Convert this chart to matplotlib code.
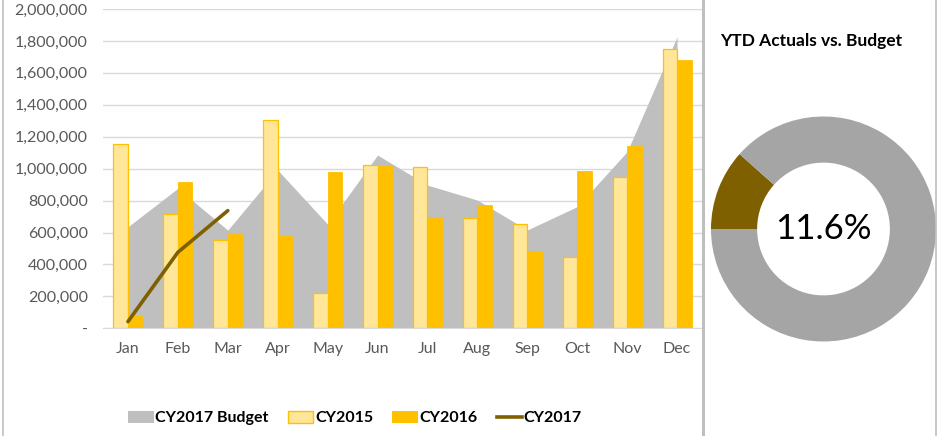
import matplotlib
matplotlib.use("Agg")
import matplotlib.pyplot as plt
import numpy as np
from matplotlib.lines import Line2D
from matplotlib.patches import Patch
from matplotlib.ticker import FuncFormatter

plt.rcParams['font.family'] = ['Lato', 'DejaVu Sans']

months = ['Jan', 'Feb', 'Mar', 'Apr', 'May', 'Jun',
          'Jul', 'Aug', 'Sep', 'Oct', 'Nov', 'Dec']
budget_2017 = [636000, 877000, 615000, 991000, 652000, 1085000,
               897000, 803000, 616000, 762000, 1106000, 1826000]
cy2015 = [1154000, 714000, 553000, 1304000, 219000, 1021000,
          1008000, 693000, 653000, 445000, 947000, 1751000]
cy2016 = [79000, 918000, 590000, 578000, 981000, 1018000,
          693000, 770000, 484000, 983000, 1143000, 1680000]
cy2017 = [42000, 476000, 737000]
ytd_pct = 11.6

colors = {
    'budget': '#BFBFBF',
    'cy2015': '#FFE699',
    'cy2016': '#FFC000',
    'cy2017': '#7F6000',
    'ring': '#A5A5A5',
    'grid': '#D9D9D9',
    'tick': '#595959',
}

fig = plt.figure(figsize=(9.38, 4.36), dpi=100)
fig.patch.set_facecolor('white')

# ---- main combo chart
ax = fig.add_axes([103 / 938, 1 - 328.3 / 436, 599 / 938, 319.3 / 436])
x = np.arange(len(months))
w = 0.29

ax.fill_between(x, budget_2017, 0, color=colors['budget'], lw=0, zorder=1)
ax.bar(x - w / 2, cy2015, w, color=colors['cy2015'], edgecolor=colors['cy2016'],
       linewidth=0.9, zorder=2)
ax.bar(x + w / 2, cy2016, w, color=colors['cy2016'], edgecolor=colors['cy2016'],
       linewidth=0.6, zorder=2)
ax.plot(x[:len(cy2017)], cy2017, color=colors['cy2017'], lw=2.6,
        solid_capstyle='round', zorder=3)

ax.set_xlim(-0.5, len(months) - 0.5)
ax.set_ylim(0, 2000000)
ax.set_yticks(np.arange(0, 2000001, 200000))
ax.yaxis.set_major_formatter(FuncFormatter(lambda v, p: '-' if v == 0 else f'{v:,.0f}'))
ax.set_xticks(x)
ax.set_xticklabels(months)
ax.grid(axis='y', color=colors['grid'], lw=1, zorder=0)
ax.set_axisbelow(True)
for s in ['top', 'right', 'left']:
    ax.spines[s].set_visible(False)
ax.spines['bottom'].set_color(colors['grid'])
ax.tick_params(axis='both', length=0, colors=colors['tick'], labelsize=11.5)
ax.tick_params(axis='y', pad=11)
ax.tick_params(axis='x', pad=10)

handles = [
    Patch(facecolor=colors['budget'], edgecolor='none', label='CY2017 Budget'),
    Patch(facecolor=colors['cy2015'], edgecolor=colors['cy2016'], label='CY2015'),
    Patch(facecolor=colors['cy2016'], edgecolor='none', label='CY2016'),
    Line2D([0], [0], color=colors['cy2017'], lw=2.6, label='CY2017'),
]
fig.legend(handles=handles, loc='center', bbox_to_anchor=(355 / 938, 1 - 418 / 436),
           ncol=4, frameon=False, prop={'weight': 'bold', 'size': 11.5},
           handlelength=1.6, handleheight=0.8, handletextpad=0.1, columnspacing=1.2)

# ---- donut
ax2 = fig.add_axes([711 / 938, 1 - 341.5 / 436, 225 / 938, 225 / 436])
ax2.pie([ytd_pct, 100 - ytd_pct], colors=[colors['cy2017'], colors['ring']],
        startangle=180, counterclock=False, radius=1,
        wedgeprops=dict(width=0.41, linewidth=0))
ax2.set_xlim(-1, 1)
ax2.set_ylim(-1, 1)
ax2.text(0, 0, f'{ytd_pct}%', ha='center', va='center', fontsize=25, color='black')

fig.text(811 / 938, 1 - 41 / 436, 'YTD Actuals vs. Budget', ha='center', va='center',
         fontsize=12.5, fontweight='bold', color='black')

# ---- frame lines
fig.add_artist(Line2D([2.5 / 938, 2.5 / 938], [0, 1], color='#BFBFBF', lw=1.2))
fig.add_artist(Line2D([703 / 938, 703 / 938], [0, 1], color='#BFBFBF', lw=2.2))
fig.add_artist(Line2D([935.5 / 938, 935.5 / 938], [0, 1], color='#BFBFBF', lw=1.2))

fig.savefig('out.png', dpi=100, facecolor='white')
